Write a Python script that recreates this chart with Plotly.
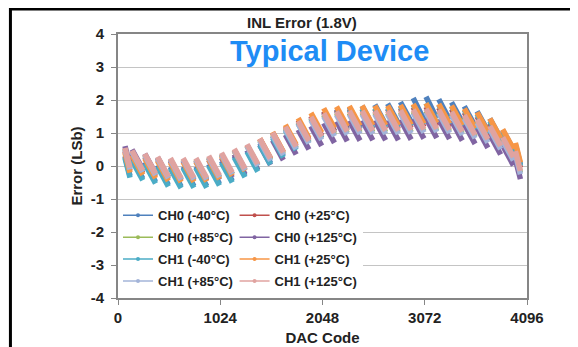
import plotly.graph_objects as go

# ---------------- data ----------------
peak_codes = [70, 140, 268, 396, 524, 652, 780, 908, 1036, 1164, 1292, 1420, 1548, 1676, 1804, 1932,
              2060, 2188, 2316, 2444, 2572, 2700, 2828, 2956, 3084, 3212, 3340, 3468, 3596, 3724, 3852, 3980]
trough_codes = [120, 248, 376, 504, 632, 760, 888, 1016, 1144, 1272, 1400, 1528, 1656, 1784, 1912, 2040,
                2168, 2296, 2424, 2552, 2680, 2808, 2936, 3064, 3192, 3320, 3448, 3576, 3704, 3832, 3960, 4030]

series_names = ["CH0 (-40°C)", "CH0 (+25°C)", "CH0 (+85°C)", "CH0 (+125°C)",
                "CH1 (-40°C)", "CH1 (+25°C)", "CH1 (+85°C)", "CH1 (+125°C)"]
series_colors = ["#4F81BD", "#C0504D", "#9BBB59", "#8064A2",
                 "#4BACC6", "#F79646", "#A3B4D9", "#E0A3A0"]

ch0_m40_peaks = [0.30, 0.22, 0.12, 0.03, -0.02, -0.01, -0.01, 0.06, 0.15, 0.31, 0.48, 0.69, 0.91, 1.13, 1.34, 1.50,
                 1.65, 1.73, 1.78, 1.82, 1.86, 1.89, 1.94, 2.06, 2.10, 2.02, 1.93, 1.81, 1.66, 1.44, 1.09, 0.65]
ch0_m40_troughs = [-0.30, -0.38, -0.48, -0.57, -0.62, -0.61, -0.61, -0.54, -0.45, -0.29, -0.12, 0.09, 0.31, 0.53, 0.74, 0.90,
                   1.05, 1.13, 1.18, 1.22, 1.26, 1.29, 1.34, 1.40, 1.45, 1.40, 1.33, 1.21, 1.06, 0.84, 0.49, 0.05]

ch0_p25_peaks = [0.45, 0.38, 0.28, 0.20, 0.16, 0.17, 0.18, 0.25, 0.35, 0.49, 0.63, 0.82, 1.01, 1.20, 1.39, 1.52,
                 1.65, 1.70, 1.72, 1.73, 1.73, 1.73, 1.75, 1.78, 1.80, 1.77, 1.72, 1.62, 1.50, 1.30, 0.97, 0.55]
ch0_p25_troughs = [-0.15, -0.22, -0.32, -0.40, -0.44, -0.43, -0.42, -0.35, -0.25, -0.11, 0.03, 0.22, 0.41, 0.60, 0.79, 0.92,
                   1.05, 1.10, 1.12, 1.13, 1.13, 1.13, 1.15, 1.18, 1.20, 1.17, 1.12, 1.02, 0.90, 0.70, 0.37, -0.05]

ch0_p85_peaks = [0.53, 0.45, 0.34, 0.25, 0.20, 0.20, 0.20, 0.26, 0.35, 0.47, 0.61, 0.78, 0.96, 1.14, 1.31, 1.44,
                 1.55, 1.60, 1.61, 1.62, 1.62, 1.61, 1.63, 1.65, 1.67, 1.64, 1.58, 1.48, 1.36, 1.16, 0.82, 0.40]
ch0_p85_troughs = [-0.07, -0.15, -0.26, -0.35, -0.40, -0.40, -0.40, -0.34, -0.25, -0.13, 0.01, 0.18, 0.36, 0.54, 0.71, 0.84,
                   0.95, 1.00, 1.01, 1.02, 1.02, 1.01, 1.03, 1.05, 1.07, 1.04, 0.98, 0.88, 0.76, 0.56, 0.22, -0.20]

ch0_p125_peaks = [0.60, 0.50, 0.37, 0.26, 0.19, 0.16, 0.14, 0.18, 0.25, 0.36, 0.47, 0.63, 0.78, 0.95, 1.10, 1.21,
                  1.30, 1.35, 1.37, 1.38, 1.38, 1.38, 1.40, 1.43, 1.45, 1.42, 1.37, 1.27, 1.15, 0.95, 0.62, 0.20]
ch0_p125_troughs = [0.00, -0.10, -0.23, -0.34, -0.42, -0.44, -0.46, -0.42, -0.35, -0.25, -0.13, 0.03, 0.18, 0.35, 0.50, 0.61,
                    0.70, 0.75, 0.77, 0.78, 0.78, 0.78, 0.80, 0.83, 0.85, 0.82, 0.77, 0.67, 0.55, 0.35, 0.02, -0.40]

ch1_m40_peaks = [0.25, 0.17, 0.07, -0.02, -0.07, -0.06, -0.06, 0.01, 0.10, 0.26, 0.43, 0.64, 0.86, 1.08, 1.29, 1.45,
                 1.60, 1.67, 1.71, 1.74, 1.76, 1.77, 1.81, 1.86, 1.90, 1.86, 1.81, 1.70, 1.57, 1.36, 1.03, 0.60]
ch1_m40_troughs = [-0.35, -0.43, -0.53, -0.62, -0.67, -0.66, -0.66, -0.59, -0.50, -0.34, -0.17, 0.04, 0.26, 0.48, 0.69, 0.85,
                   1.00, 1.07, 1.11, 1.14, 1.16, 1.17, 1.21, 1.26, 1.30, 1.26, 1.21, 1.10, 0.97, 0.76, 0.43, 0.00]

ch1_p25_peaks = [0.40, 0.33, 0.23, 0.15, 0.11, 0.12, 0.13, 0.20, 0.30, 0.46, 0.62, 0.83, 1.03, 1.25, 1.45, 1.61,
                 1.75, 1.80, 1.82, 1.83, 1.83, 1.83, 1.85, 1.88, 1.90, 1.88, 1.83, 1.74, 1.63, 1.44, 1.11, 0.70]
ch1_p25_troughs = [-0.20, -0.27, -0.37, -0.45, -0.49, -0.48, -0.47, -0.40, -0.30, -0.15, 0.02, 0.23, 0.43, 0.65, 0.85, 1.01,
                   1.15, 1.20, 1.22, 1.23, 1.23, 1.23, 1.25, 1.28, 1.30, 1.28, 1.23, 1.14, 1.03, 0.84, 0.51, 0.10]

ch1_p85_peaks = [0.50, 0.42, 0.32, 0.23, 0.19, 0.19, 0.19, 0.26, 0.35, 0.47, 0.60, 0.76, 0.93, 1.11, 1.28, 1.39,
                 1.50, 1.55, 1.57, 1.57, 1.57, 1.57, 1.59, 1.61, 1.63, 1.60, 1.54, 1.44, 1.31, 1.11, 0.77, 0.35]
ch1_p85_troughs = [-0.10, -0.18, -0.28, -0.37, -0.42, -0.41, -0.41, -0.34, -0.25, -0.13, 0.00, 0.16, 0.33, 0.51, 0.68, 0.79,
                   0.90, 0.95, 0.97, 0.97, 0.97, 0.97, 0.99, 1.01, 1.03, 1.00, 0.94, 0.84, 0.71, 0.51, 0.17, -0.25]

ch1_p125_peaks = [0.55, 0.47, 0.37, 0.28, 0.24, 0.24, 0.24, 0.31, 0.40, 0.52, 0.66, 0.83, 1.01, 1.19, 1.36, 1.49,
                  1.60, 1.65, 1.67, 1.67, 1.67, 1.67, 1.69, 1.71, 1.73, 1.70, 1.64, 1.54, 1.41, 1.21, 0.87, 0.45]
ch1_p125_troughs = [-0.05, -0.13, -0.23, -0.32, -0.37, -0.36, -0.36, -0.29, -0.20, -0.08, 0.06, 0.23, 0.41, 0.59, 0.76, 0.89,
                    1.00, 1.05, 1.07, 1.07, 1.07, 1.07, 1.09, 1.11, 1.13, 1.10, 1.04, 0.94, 0.81, 0.61, 0.27, -0.15]

series_peaks = [ch0_m40_peaks, ch0_p25_peaks, ch0_p85_peaks, ch0_p125_peaks,
                ch1_m40_peaks, ch1_p25_peaks, ch1_p85_peaks, ch1_p125_peaks]
series_troughs = [ch0_m40_troughs, ch0_p25_troughs, ch0_p85_troughs, ch0_p125_troughs,
                  ch1_m40_troughs, ch1_p25_troughs, ch1_p85_troughs, ch1_p125_troughs]

x_tick_vals = [0, 1024, 2048, 3072, 4096]
x_tick_text = ["0", "1024", "2048", "3072", "4096"]
y_tick_vals = [-4, -3, -2, -1, 0, 1, 2, 3, 4]

# ---------------- figure ----------------
FONT = "Liberation Sans, Arial, sans-serif"
TXT = "#222222"
fig = go.Figure()

# each 128-code segment is drawn as a thick noisy stroke; the single-code jumps between
# segments are left open, as they are barely visible in the reference
for name, color, pk, tr in zip(series_names, series_colors, series_peaks, series_troughs):
    xs, ys = [], []
    for xp, yp, xt, yt in zip(peak_codes, pk, trough_codes, tr):
        xs += [xp, xt, None]
        ys += [yp, yt, None]
    fig.add_trace(go.Scatter(x=xs, y=ys, mode="lines", name=name, showlegend=False,
                             connectgaps=False, line=dict(color=color, width=5.5)))

# legend entries (two columns, as in the reference)
for i, (name, color) in enumerate(zip(series_names, series_colors)):
    fig.add_trace(go.Scatter(x=[None], y=[None], mode="lines+markers", name=name,
                             legend="legend" if i % 2 == 0 else "legend2",
                             legendgroup=f"g{i}",
                             line=dict(color=color, width=1.5),
                             marker=dict(color=color, size=4)))

legend_common = dict(bgcolor="white", borderwidth=0, tracegroupgap=2,
                     font=dict(family=FONT, size=13, color=TXT, weight="bold"),
                     xanchor="left", yanchor="top", itemwidth=30)

# the page body has an 8px margin, so the figure is sized to fit the window
fig.update_layout(
    width=570, height=339,
    margin=dict(l=110, r=51, t=26, b=49),
    paper_bgcolor="white", plot_bgcolor="white",
    font=dict(family=FONT, color=TXT),
    legend=dict(x=0.0, y=0.37, **legend_common),
    legend2=dict(x=0.285, y=0.37, **legend_common),
    xaxis=dict(range=[0, 4096], tickvals=x_tick_vals, ticktext=[f"<b>{t}</b>" for t in x_tick_text],
               automargin=False,
               showgrid=False, zeroline=False, showline=True, linecolor="#868686", linewidth=2,
               mirror=True, ticks="outside", ticklen=5, tickcolor="#868686",
               tickfont=dict(family=FONT, size=15, color=TXT),
               title=dict(text="<b>DAC Code</b>", font=dict(family=FONT, size=15, color=TXT), standoff=7)),
    yaxis=dict(range=[-4, 4], tickvals=y_tick_vals, ticktext=[f"<b>{v}</b>" for v in y_tick_vals],
               automargin=False,
               showgrid=True, gridcolor="#C4C4C4", gridwidth=1.2, zeroline=False,
               showline=True, linecolor="#868686", linewidth=2, mirror=True,
               ticks="outside", ticklen=5, tickcolor="#868686", ticklabelstandoff=4,
               tickfont=dict(family=FONT, size=15, color=TXT),
               title=dict(text="<b>Error (LSb)</b>", font=dict(family=FONT, size=15, color=TXT), standoff=4)),
    annotations=[
        dict(text="<b>INL Error (1.8V)</b>", xref="paper", yref="paper", x=0.45, y=1.045,
             xanchor="center", yanchor="middle", showarrow=False,
             font=dict(family=FONT, size=15, color=TXT)),
        dict(text="<b>Typical Device</b>", xref="paper", yref="paper", x=0.518, y=0.936,
             xanchor="center", yanchor="middle", showarrow=False,
             font=dict(family=FONT, size=29, color="#1E8CF5")),
    ],
    shapes=[
        dict(type="rect", xref="paper", yref="paper", x0=-0.263, x1=1.2, y0=-0.3, y1=1.095,
             line=dict(color="black", width=3), fillcolor="rgba(0,0,0,0)", layer="above"),
    ],
)

fig.write_html("out.html")
